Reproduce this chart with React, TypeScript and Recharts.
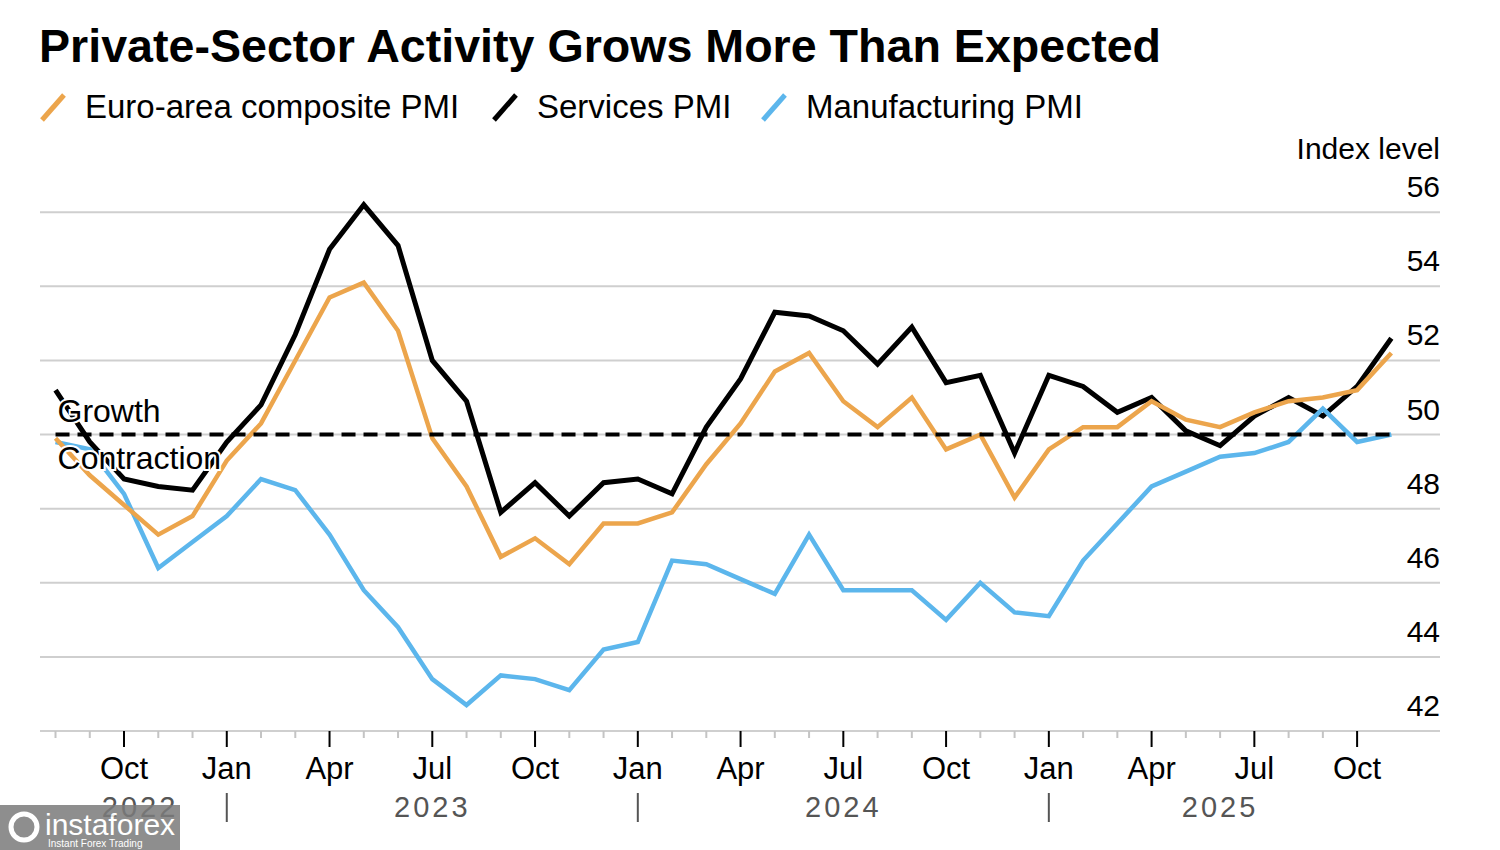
import React from "react";
import {
  LineChart,
  Line,
  XAxis,
  YAxis,
  CartesianGrid,
  ReferenceLine,
  ReferenceDot,
} from "recharts";

const FONT = '"Liberation Sans", Arial, Helvetica, sans-serif';

// monthly readings, Jul 2022 .. Oct 2025
const months = [
  "Jul 2022", "Aug 2022", "Sep 2022", "Oct 2022", "Nov 2022", "Dec 2022",
  "Jan 2023", "Feb 2023", "Mar 2023", "Apr 2023", "May 2023", "Jun 2023",
  "Jul 2023", "Aug 2023", "Sep 2023", "Oct 2023", "Nov 2023", "Dec 2023",
  "Jan 2024", "Feb 2024", "Mar 2024", "Apr 2024", "May 2024", "Jun 2024",
  "Jul 2024", "Aug 2024", "Sep 2024", "Oct 2024", "Nov 2024", "Dec 2024",
  "Jan 2025", "Feb 2025", "Mar 2025", "Apr 2025", "May 2025", "Jun 2025",
  "Jul 2025", "Aug 2025", "Sep 2025", "Oct 2025",
];

const composite = [
  49.9, 48.9, 48.1, 47.3, 47.8, 49.3, 50.3, 52.0, 53.7, 54.1, 52.8, 49.9,
  48.6, 46.7, 47.2, 46.5, 47.6, 47.6, 47.9, 49.2, 50.3, 51.7, 52.2, 50.9,
  50.2, 51.0, 49.6, 50.0, 48.3, 49.6, 50.2, 50.2, 50.9, 50.4, 50.2, 50.6,
  50.9, 51.0, 51.2, 52.2,
];

const services = [
  51.2, 49.8, 48.8, 48.6, 48.5, 49.8, 50.8, 52.7, 55.0, 56.2, 55.1, 52.0,
  50.9, 47.9, 48.7, 47.8, 48.7, 48.8, 48.4, 50.2, 51.5, 53.3, 53.2, 52.8,
  51.9, 52.9, 51.4, 51.6, 49.5, 51.6, 51.3, 50.6, 51.0, 50.1, 49.7, 50.5,
  51.0, 50.5, 51.3, 52.6,
];

const manufacturing = [
  49.8, 49.6, 48.4, 46.4, 47.1, 47.8, 48.8, 48.5, 47.3, 45.8, 44.8, 43.4,
  42.7, 43.5, 43.4, 43.1, 44.2, 44.4, 46.6, 46.5, 46.1, 45.7, 47.3, 45.8,
  45.8, 45.8, 45.0, 46.0, 45.2, 45.1, 46.6, 47.6, 48.6, 49.0, 49.4, 49.5,
  49.8, 50.7, 49.8, 50.0,
];

const yTicks = [42, 44, 46, 48, 50, 52, 54, 56];
const quarterLabels = [
  "Oct", "Jan", "Apr", "Jul", "Oct", "Jan", "Apr", "Jul", "Oct",
  "Jan", "Apr", "Jul", "Oct",
];
const years = ["2022", "2023", "2024", "2025"];
const yearPos = [3.47, 12, 24, 35];
const yearBreaks = [6, 18, 30];

const ORANGE = "#eca54c";
const BLUE = "#5cb6ec";

// x = months since Jul 1 2022, each reading sits at its month end
const data = months.map((m, i) => ({
  t: i + 1,
  month: m,
  composite: composite[i],
  services: services[i],
  manufacturing: manufacturing[i],
}));

const monthTicks = Array.from({ length: 39 }, (_, i) => i + 1);
const xTicks = [...monthTicks, yearPos[0]].sort((a, b) => a - b);

function XTick(props: any) {
  const { x, y, payload } = props;
  const v = payload.value;
  const qi = (v - 3) / 3;
  const isMonth = Number.isInteger(v);
  const isQuarter = isMonth && v >= 3 && v % 3 === 0;
  const yi = yearPos.indexOf(v);
  return (
    <g>
      {isMonth && (
        <line
          x1={x}
          x2={x}
          y1={y}
          y2={y + (isQuarter ? 16 : 7)}
          stroke={isQuarter ? "#000" : "#c4c4c4"}
          strokeWidth={2}
        />
      )}
      {isQuarter && (
        <text x={x} y={y + 48} textAnchor="middle" fontSize={31} fontFamily={FONT} fill="#000">
          {quarterLabels[qi]}
        </text>
      )}
      {yearBreaks.includes(v) && (
        <line x1={x} x2={x} y1={y + 62} y2={y + 91} stroke="#555" strokeWidth={2} />
      )}
      {yi >= 0 && (
        <text
          x={x}
          y={y + 86}
          textAnchor="middle"
          fontSize={29}
          fontFamily={FONT}
          fill="#555"
          letterSpacing={3}
        >
          {years[yi]}
        </text>
      )}
    </g>
  );
}

function YTick(props: any) {
  const { y, payload } = props;
  return (
    <text x={1440} y={y - 15} textAnchor="end" fontSize={30} fontFamily={FONT} fill="#000">
      {payload.value}
    </text>
  );
}

function ZoneLabels(props: any) {
  const { viewBox } = props;
  const x = viewBox.x + 2;
  const y = viewBox.y;
  const halo = { paintOrder: "stroke" as const, stroke: "#fff", strokeWidth: 4 };
  return (
    <g fontFamily={FONT} fontSize={32} fill="#000">
      <text x={x} y={y - 13} style={halo}>Growth</text>
      <text x={x} y={y + 34} style={halo}>Contraction</text>
    </g>
  );
}

const legend = [
  { name: "Euro-area composite PMI", color: ORANGE, x: 42 },
  { name: "Services PMI", color: "#000", x: 494 },
  { name: "Manufacturing PMI", color: BLUE, x: 763 },
];

export default function App() {
  return (
    <div
      style={{
        position: "absolute",
        left: 0,
        top: 0,
        width: 1500,
        height: 850,
        background: "#fff",
        overflow: "hidden",
      }}
    >
      <LineChart
        width={1500}
        height={850}
        data={data}
        margin={{ top: 190, right: 0, bottom: 0, left: 40 }}
      >
        <CartesianGrid vertical={false} horizontalValues={yTicks} stroke="#cfcfcf" strokeWidth={2} />
        <XAxis
          dataKey="t"
          type="number"
          domain={[0.547, 41.42]}
          ticks={xTicks}
          interval={0}
          height={119}
          axisLine={false}
          tickLine={false}
          tickSize={0}
          tickMargin={0}
          tick={<XTick />}
        />
        <YAxis
          orientation="right"
          domain={[42, 56.6]}
          allowDataOverflow
          ticks={yTicks}
          interval={0}
          width={60}
          axisLine={false}
          tickLine={false}
          tickSize={0}
          tickMargin={0}
          tick={<YTick />}
        />
        <Line
          dataKey="services"
          stroke="#000"
          strokeWidth={5}
          dot={false}
          isAnimationActive={false}
        />
        <Line
          dataKey="manufacturing"
          stroke={BLUE}
          strokeWidth={4.5}
          dot={false}
          isAnimationActive={false}
        />
        <Line
          dataKey="composite"
          stroke={ORANGE}
          strokeWidth={4.5}
          dot={false}
          isAnimationActive={false}
        />
        <ReferenceLine
          segment={[
            { x: 1, y: 50 },
            { x: 40, y: 50 },
          ]}
          stroke="#000"
          strokeWidth={4}
          strokeDasharray="14 8"
        />
        <ReferenceDot x={1} y={50} r={0} stroke="none" label={<ZoneLabels />} />
      </LineChart>

      <svg
        width={1500}
        height={850}
        style={{ position: "absolute", left: 0, top: 0, pointerEvents: "none" }}
      >
        <text x={39} y={62} fontFamily={FONT} fontWeight="bold" fontSize={46.6} fill="#000">
          Private-Sector Activity Grows More Than Expected
        </text>
        {legend.map((l) => (
          <g key={l.name}>
            <line x1={l.x} y1={120} x2={l.x + 22} y2={95} stroke={l.color} strokeWidth={5} />
            <text x={l.x + 43} y={118} fontFamily={FONT} fontSize={33} fill="#000">
              {l.name}
            </text>
          </g>
        ))}
        <text x={1440} y={159} textAnchor="end" fontFamily={FONT} fontSize={30} fill="#000">
          Index level
        </text>
        <g opacity={0.85}>
          <rect x={0} y={805} width={180} height={45} fill="#7b7b7b" />
          <circle cx={24} cy={827} r={13} fill="none" stroke="#fff" strokeWidth={5} />
          <text x={45} y={835} fontFamily={FONT} fontSize={30} fill="#fff">
            instaforex
          </text>
          <text x={48} y={847} fontFamily={FONT} fontSize={10} fill="#fff">
            Instant Forex Trading
          </text>
        </g>
      </svg>
    </div>
  );
}
